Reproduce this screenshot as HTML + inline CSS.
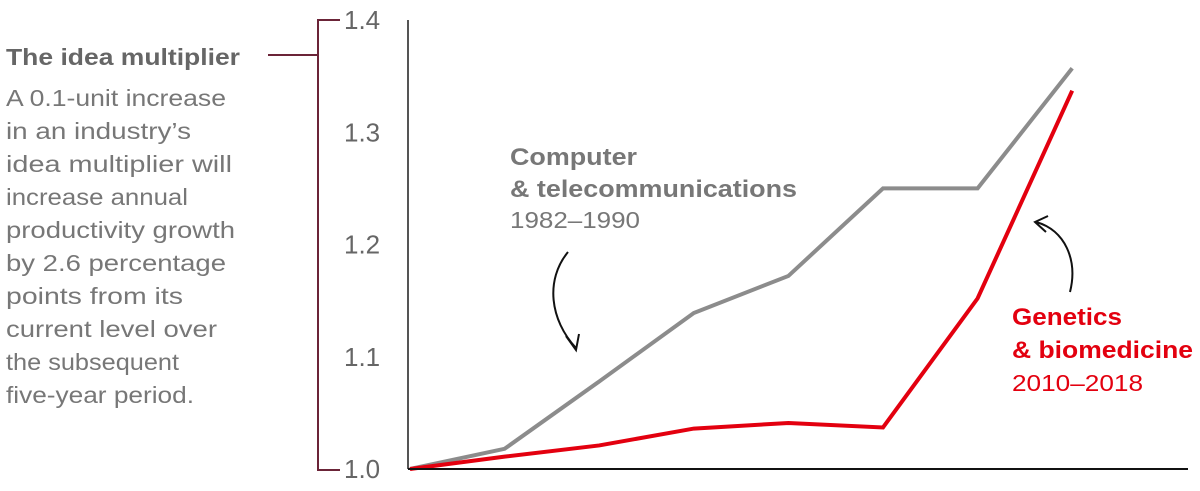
<!DOCTYPE html>
<html><head><meta charset="utf-8"><style>
body{margin:0;background:#fff;width:1200px;height:486px;overflow:hidden;font-family:"Liberation Sans",Arial,sans-serif}
svg text{font-family:"Liberation Sans",Arial,sans-serif}
</style></head><body>
<svg id="c" width="1200" height="486">
<text x="6" y="65" font-size="23" font-weight="bold" fill="#666" textLength="234" lengthAdjust="spacingAndGlyphs">The idea multiplier</text>
<g font-size="23" fill="#777">
<text x="6" y="106" textLength="220" lengthAdjust="spacingAndGlyphs">A 0.1-unit increase</text>
<text x="6" y="139" textLength="185" lengthAdjust="spacingAndGlyphs">in an industry’s</text>
<text x="6" y="172" textLength="226" lengthAdjust="spacingAndGlyphs">idea multiplier will</text>
<text x="6" y="205" textLength="182" lengthAdjust="spacingAndGlyphs">increase annual</text>
<text x="6" y="238" textLength="229" lengthAdjust="spacingAndGlyphs">productivity growth</text>
<text x="6" y="271" textLength="220" lengthAdjust="spacingAndGlyphs">by 2.6 percentage</text>
<text x="6" y="304" textLength="177" lengthAdjust="spacingAndGlyphs">points from its</text>
<text x="6" y="337" textLength="211" lengthAdjust="spacingAndGlyphs">current level over</text>
<text x="6" y="370" textLength="173" lengthAdjust="spacingAndGlyphs">the subsequent</text>
<text x="6" y="403" textLength="188" lengthAdjust="spacingAndGlyphs">five-year period.</text>
</g>
<g stroke="#6b2438" stroke-width="2" fill="none">
<path d="M268 55H318M340 20H318V470H340"/>
</g>
<g id="yt" font-size="26" fill="#666"></g>
<line x1="408" y1="20" x2="408" y2="469" stroke="#555" stroke-width="2"/>
<g id="lines"></g>
<line x1="408" y1="469" x2="1188" y2="469" stroke="#111" stroke-width="2"/>
<g>
<text x="510" y="165" font-size="24" font-weight="bold" fill="#777" textLength="127" lengthAdjust="spacingAndGlyphs">Computer</text>
<text x="510" y="197" font-size="24" font-weight="bold" fill="#777" textLength="287" lengthAdjust="spacingAndGlyphs">&amp; telecommunications</text>
<text x="510" y="228" font-size="23" fill="#777" textLength="130" lengthAdjust="spacingAndGlyphs">1982–1990</text>
</g>
<g>
<text x="1012" y="325" font-size="24" font-weight="bold" fill="#e3000f" textLength="110" lengthAdjust="spacingAndGlyphs">Genetics</text>
<text x="1012" y="358" font-size="24" font-weight="bold" fill="#e3000f" textLength="181" lengthAdjust="spacingAndGlyphs">&amp; biomedicine</text>
<text x="1012" y="391" font-size="23" fill="#e3000f" textLength="131" lengthAdjust="spacingAndGlyphs">2010–2018</text>
</g>
<g stroke="#111" stroke-width="2" fill="none">
<path d="M568 252C545 280 550 320 576 348M566 336L576 350L579 334"/>
<path d="M1070 292C1078 260 1065 230 1036 222M1048 216L1035 222L1046 232"/>
</g>
</svg>
<script>
const yTicks=["1.0","1.1","1.2","1.3","1.4"];
const tickVals=[1.0,1.1,1.2,1.3,1.4];
const periods=[0,1,2,3,4,5,6,7];
const computer=[1.0,1.018,1.078,1.139,1.172,1.25,1.25,1.357];
const genetics=[1.0,1.011,1.021,1.036,1.041,1.037,1.152,1.337];
const y=v=>469-(v-1.0)/0.4*449;
const x=i=>410+i*94.6;
const ns="http://www.w3.org/2000/svg";
const yt=document.getElementById('yt');
tickVals.forEach((v,i)=>{const t=document.createElementNS(ns,'text');
t.setAttribute('x',344);t.setAttribute('y',y(v)+9);t.textContent=yTicks[i];


yt.appendChild(t);});
const g=document.getElementById('lines');
[[computer,'#8c8c8c','computer-line'],[genetics,'#e3000f','genetics-line']].forEach(([d,c,n])=>{
const p=document.createElementNS(ns,'polyline');
p.setAttribute('points',d.map((v,i)=>x(periods[i])+','+y(v)).join(' '));
p.setAttribute('fill','none');p.setAttribute('stroke',c);p.setAttribute('stroke-width','4');


g.appendChild(p);});
</script>
</body></html>
